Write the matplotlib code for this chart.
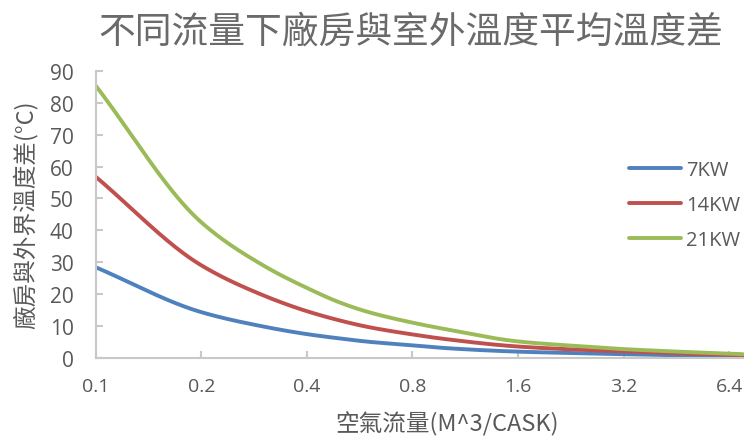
import numpy as np
import matplotlib
matplotlib.use("Agg")
import matplotlib.pyplot as plt
from matplotlib.ticker import FixedLocator, FixedFormatter, NullLocator

# Air flow (m^3 per cask) and the temperature rise of the plant over outdoor air
flow = [0.1, 0.2, 0.3, 0.4, 0.5, 0.6, 0.8, 1.0, 1.6, 2.4, 3.2, 4.8, 7.0]
dt_7kw = [28.4, 14.3, 9.8, 7.4, 6.0, 5.0, 3.9, 3.0, 1.9, 1.4, 1.1, 0.7, 0.4]
dt_14kw = [56.8, 29.0, 19.6, 14.6, 11.6, 9.6, 7.3, 5.8, 3.5, 2.5, 2.0, 1.3, 0.8]
dt_21kw = [85.4, 42.5, 29.0, 21.9, 17.2, 14.3, 11.0, 8.9, 5.1, 3.6, 2.7, 1.8, 1.1]

series_labels = ["7KW", "14KW", "21KW"]
series_colors = ["#4F81BD", "#C0504D", "#9BBB59"]
x_ticks = [0.1, 0.2, 0.4, 0.8, 1.6, 3.2, 6.4]
x_tick_labels = ["0.1", "0.2", "0.4", "0.8", "1.6", "3.2", "6.4"]
y_ticks = [0, 10, 20, 30, 40, 50, 60, 70, 80, 90]

title = "不同流量下廠房與室外溫度平均溫度差"
x_title = "空氣流量(M^3/CASK)"
y_title = "廠房與外界溫度差(°C)"

CJK = ["Noto Sans CJK TC", "DejaVu Sans"]
LATIN = ["Open Sans", "DejaVu Sans"]
GREY_TEXT = "#595959"
GREY_AXIS = "#c8c8c8"


def smooth(xs, ys, n=40):
    """Monotone cubic (Fritsch-Carlson) curve through the points, in log2(x) space."""
    u = np.log2(np.asarray(xs, float))
    y = np.asarray(ys, float)
    h = np.diff(u)
    d = np.diff(y) / h
    m = np.zeros_like(y)
    m[0], m[-1] = d[0], d[-1]
    for k in range(1, len(y) - 1):
        if d[k - 1] * d[k] <= 0:
            m[k] = 0.0
        else:
            w1 = 2 * h[k] + h[k - 1]
            w2 = h[k] + 2 * h[k - 1]
            m[k] = (w1 + w2) / (w1 / d[k - 1] + w2 / d[k])
    out_u, out_y = [], []
    for k in range(len(h)):
        t = np.linspace(0, 1, n, endpoint=(k == len(h) - 1))
        h00 = 2 * t ** 3 - 3 * t ** 2 + 1
        h10 = t ** 3 - 2 * t ** 2 + t
        h01 = -2 * t ** 3 + 3 * t ** 2
        h11 = t ** 3 - t ** 2
        out_u.append(u[k] + t * h[k])
        out_y.append(h00 * y[k] + h10 * h[k] * m[k] + h01 * y[k + 1] + h11 * h[k] * m[k + 1])
    return 2 ** np.concatenate(out_u), np.concatenate(out_y)


fig = plt.figure(figsize=(7.44, 4.39), dpi=100)
ax = fig.add_axes([95.7 / 744, 1 - 358.7 / 439, 1 - 95.7 / 744, (358.7 - 72) / 439])

for ys, lab, col in zip([dt_7kw, dt_14kw, dt_21kw], series_labels, series_colors):
    sx, sy = smooth(flow, ys)
    ax.plot(sx, sy, color=col, lw=2.8, label=lab, solid_capstyle="round")

ax.set_xscale("log", base=2)
ax.set_xlim(0.1, 7.05)
ax.set_ylim(0, 90)
ax.xaxis.set_major_locator(FixedLocator(x_ticks))
ax.xaxis.set_major_formatter(FixedFormatter(x_tick_labels))
ax.xaxis.set_minor_locator(NullLocator())
ax.set_yticks(y_ticks)

for side in ["top", "right"]:
    ax.spines[side].set_visible(False)
for side in ["left", "bottom"]:
    ax.spines[side].set_color(GREY_AXIS)
    ax.spines[side].set_linewidth(1.5)

ax.tick_params(axis="both", direction="in", length=5, width=1.5, color=GREY_AXIS,
               labelcolor=GREY_TEXT, labelsize=14)
ax.tick_params(axis="y", pad=16, labelsize=15)
ax.tick_params(axis="x", pad=14)
for lbl in ax.get_xticklabels() + ax.get_yticklabels():
    lbl.set_family(LATIN)

fig.text(411 / 744, 1 - 32 / 439, title, ha="center", va="center",
         fontsize=26.5, color="#6a6a6a", family=CJK, fontweight="light")
fig.text(447 / 744, 1 - 424 / 439, x_title, ha="center", va="center",
         fontsize=17, color=GREY_TEXT, family=CJK)
fig.text(25 / 744, 1 - 215 / 439, y_title, ha="center", va="center", rotation=90,
         fontsize=17, color=GREY_TEXT, family=CJK)

leg = ax.legend(loc="center left", bbox_to_anchor=(629 / 744, 1 - 206 / 439),
                bbox_transform=fig.transFigure, frameon=False, fontsize=14.5,
                handlelength=2.6, handletextpad=0.25, labelspacing=0.75,
                borderpad=0, borderaxespad=0)
for t in leg.get_texts():
    t.set_color(GREY_TEXT)
    t.set_family(LATIN)

fig.savefig("out.png", dpi=100)
